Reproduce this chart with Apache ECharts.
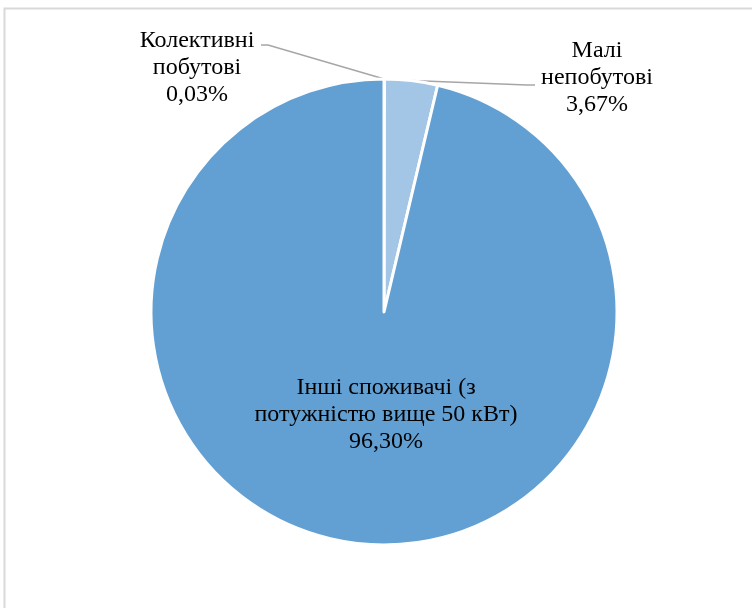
<!DOCTYPE html>
<html>
<head>
<meta charset="utf-8">
<script src="https://cdn.jsdelivr.net/npm/echarts@6/dist/echarts.min.js"></script>
<style>
  html, body { margin: 0; padding: 0; background: #fff; }
  #pie { width: 752px; height: 608px; }
</style>
</head>
<body>
<div id="pie"></div>
<script>
// data
var categories = ['Колективні\nпобутові', 'Малі\nнепобутові', 'Інші споживачі (з\nпотужністю вище 50 кВт)'];
var shares = [0.03, 3.67, 96.30];
var colors = ['#629fd2', '#a3c5e6', '#629fd2'];

// where each label sits (middle of the text block)
var labelPos = [[197, 68], [597, 78], [386, 415]];
var bendPts = [[[268, 45], [261, 45]], [[527, 85], [535, 85]], null];

var myChart = echarts.init(document.getElementById('pie'));

var pieData = categories.map(function (name, i) {
  var item = { name: name, value: shares[i], itemStyle: { color: colors[i] } };
  if (i === 2) {
    item.label = { position: 'inside' };
    item.labelLine = { show: false };
  }
  return item;
});

var option = {
  animation: false,
  graphic: [{
    type: 'rect',
    shape: { x: 4.5, y: 8.5, width: 800, height: 700 },
    style: { fill: 'none', stroke: '#d9d9d9', lineWidth: 2 },
    silent: true
  }],
  series: [{
    type: 'pie',
    center: [384, 312],
    radius: 233,
    startAngle: 90,
    clockwise: true,
    avoidLabelOverlap: false,
    itemStyle: { borderColor: '#fff', borderWidth: 3 },
    label: {
      show: true,
      position: 'outside',
      fontFamily: 'Liberation Serif',
      fontSize: 24,
      lineHeight: 27,
      color: '#000',
      align: 'center',
      formatter: function (p) {
        return p.name + '\n' + p.value.toFixed(2).replace('.', ',') + '%';
      }
    },
    labelLine: {
      show: true,
      lineStyle: { color: '#a6a6a6', width: 1.5 }
    },
    labelLayout: function (params) {
      var i = params.dataIndex;
      var out = {
        x: labelPos[i][0],
        y: labelPos[i][1],
        align: 'center',
        verticalAlign: 'middle'
      };
      if (bendPts[i] && params.labelLinePoints) {
        out.labelLinePoints = [params.labelLinePoints[0], bendPts[i][0], bendPts[i][1]];
      }
      return out;
    },
    data: pieData
  }]
};

myChart.setOption(option, true);
</script>
</body>
</html>
